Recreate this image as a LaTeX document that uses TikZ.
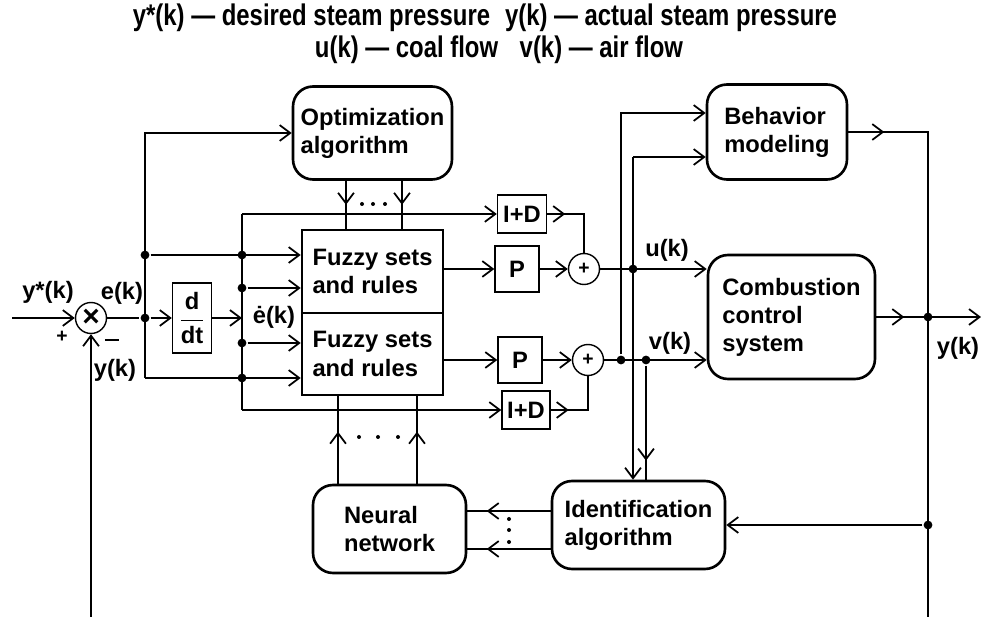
\documentclass[tikz,border=0pt]{standalone}
\usepackage{fontspec}
\setmainfont{Liberation Sans}
\newfontfamily\titlefont[FakeStretch=0.8]{Liberation Sans}
\usepackage{amsmath}
\usetikzlibrary{arrows.meta,decorations.markings}

\begin{document}
\begin{tikzpicture}[x=0.02cm, y=-0.02cm, line width=1.4pt,
	font=\bfseries\fontsize{13.5}{16}\selectfont,
	>={Straight Barb[length=6pt,width=9pt,line width=1pt]},
	block/.style={draw, rounded corners=0.4cm, line width=1.5pt, align=left, inner sep=2pt},
	fuzzybox/.style={draw, line width=1.5pt, align=left, minimum width=2.82cm},
	thinbox/.style={draw, line width=0.8pt, inner sep=0pt},
	sumnode/.style={draw, circle, line width=0.8pt, minimum size=0.62cm, inner sep=0pt},
	junc/.style={circle, fill, inner sep=0pt, minimum size=5pt},
	tipat/.style={postaction={decorate}, decoration={markings, mark=at position #1 with {\arrow{>}}}}]
	\useasboundingbox (0,0) rectangle (981,617);
	% legend
	\node (title1) at (485,18) {\titlefont\fontsize{17}{20}\selectfont y*(k) — desired steam pressure\enspace y(k) — actual steam pressure};
	\node (title2) at (499,50) {\titlefont\fontsize{17}{20}\selectfont u(k) — coal flow\enspace\ v(k) — air flow};
	% blocks
	\node[block, minimum width=3.18cm, minimum height=1.86cm] (opt) at (372.5,133) {Optimization\\algorithm};
	\node[block, minimum width=2.8cm, minimum height=1.9cm] (beh) at (777,132) {Behavior\\modeling};
	\node[fuzzybox, minimum height=1.66cm] (fz1) at (372.5,271.5) {Fuzzy sets\\and rules};
	\node[fuzzybox, minimum height=1.64cm] (fz2) at (372.5,354) {Fuzzy sets\\and rules};
	\node[block, minimum width=3.34cm, minimum height=2.48cm] (comb) at (791.5,317) {Combustion\\control\\system};
	\node[block, minimum width=3.06cm, minimum height=1.76cm] (nn) at (389.5,529) {Neural\\network};
	\node[block, minimum width=3.46cm, minimum height=1.76cm] (ident) at (638.5,525) {Identification\\algorithm};
	\node[thinbox, minimum width=0.78cm, minimum height=1.4cm] (dd) at (192,318) {$\dfrac{\text{d}}{\text{dt}}$};
	\node[thinbox, minimum width=0.98cm, minimum height=0.76cm] (id1) at (522,214) {I+D};
	\node[thinbox, minimum width=0.88cm, minimum height=0.92cm] (p1) at (517,269) {P};
	\node[thinbox, minimum width=0.88cm, minimum height=0.92cm] (p2) at (520,360) {P};
	\node[thinbox, minimum width=0.96cm, minimum height=0.76cm] (id2) at (526,410) {I+D};
	\node[sumnode] (s0) at (91,318) {\fontsize{17}{17}\selectfont ×};
	\node[sumnode] (s1) at (584,269) {\fontsize{11}{11}\selectfont +};
	\node[sumnode] (s2) at (588,360) {\fontsize{11}{11}\selectfont +};
	% points
	\coordinate (in) at (12,318);
	\coordinate (fb) at (91,617);
	\coordinate (etop) at (145,133);
	\coordinate (ebot) at (145,378);
	\coordinate (dtop) at (242,214);
	\coordinate (dbot) at (242,410);
	\coordinate (b1) at (621,113);
	\coordinate (b2) at (633,157);
	\coordinate (ycor) at (928,132);
	\coordinate (ybot) at (928,617);
	\coordinate (out) at (981,317);
	\node[junc] (j1) at (145,318) {};
	\node[junc] (j2) at (145,255) {};
	\node[junc] (k1) at (242,255) {};
	\node[junc] (k2) at (242,288) {};
	\node[junc] (k3) at (242,343) {};
	\node[junc] (k4) at (242,378) {};
	\node[junc] (ju) at (633,269) {};
	\node[junc] (jv1) at (621,360) {};
	\node[junc] (jv2) at (646,360) {};
	\node[junc] (jy1) at (928,317) {};
	\node[junc] (jy2) at (928,525) {};
	% error and its derivative
	\draw[->] (in) -- (s0);
	\draw[->] (fb) -- (s0);
	\draw (s0) -- (j1);
	\draw[->] (j1) -- (dd);
	\draw[->] (ebot) -- (etop) -- (opt.west);
	\draw[->] (ebot) -- (ebot -| fz2.west);
	\draw[->] (j2) -- (j2 -| fz1.west);
	\draw[->] (dd) -- (242,318);
	\draw (dtop) -- (dbot);
	\draw[->] (dtop) -- (id1);
	\draw[->] (dbot) -- (id2);
	\draw[->] (k2) -- (k2 -| fz1.west);
	\draw[->] (k3) -- (k3 -| fz2.west);
	% tuning of the fuzzy rules
	\draw[tipat=0.48cm] ([xshift=-0.53cm]opt.south) -- ([xshift=-0.53cm]fz1.north);
	\draw[tipat=0.48cm] ([xshift=0.59cm]opt.south) -- ([xshift=0.59cm]fz1.north);
	\draw[tipat=1.04cm] ([xshift=-1.03cm]nn.north) -- ([xshift=-1.03cm]nn.north |- fz2.south);
	\draw[tipat=1.04cm] ([xshift=0.55cm]nn.north) -- ([xshift=0.55cm]nn.north |- fz2.south);
	\draw[tipat=1.28cm] ([yshift=0.28cm]ident.west) -- ([yshift=0.28cm]ident.west -| nn.east);
	\draw[tipat=1.28cm] ([yshift=-0.48cm]ident.west) -- ([yshift=-0.48cm]ident.west -| nn.east);
	% PID parts
	\draw[->] (p1 -| fz1.east) -- (p1);
	\draw[->] (p1) -- (s1);
	\draw[->] (p2 -| fz2.east) -- (p2);
	\draw[->] (p2) -- (s2);
	\draw[tipat=0.36cm] (id1.east) -- (id1.east -| s1) -- (s1);
	\draw[tipat=0.36cm] (id2.east) -- (id2.east -| s2) -- (s2);
	% plant side
	\draw[->] (s1) -- (s1 -| comb.west);
	\draw[->] (s2) -- (s2 -| comb.west);
	\draw[->] (jv1) -- (b1) -- (b1 -| beh.west);
	\draw[->] (b2) -- (b2 -| beh.west);
	\draw[->] (b2) -- (b2 |- ident.north);
	\draw[tipat=1.9cm] (jv2) -- (jv2 |- ident.north);
	\draw[tipat=0.72cm] (beh.east) -- (ycor) -- (ybot);
	\draw[tipat=0.56cm, ->] (comb.east) -- (out);
	\draw[->] (jy2) -- (ident.east);
	% ellipses
	\foreach \x in {362,373,385} \fill (\x,204) circle (2);
	\foreach \x in {359,378,398} \fill (\x,437) circle (2);
	\foreach \y in {519,530,542} \fill (509,\y) circle (2);
	% labels
	\node (lys) at (48,292) {y*(k)};
	\node (lplus) at (62,337) {\fontsize{11}{11}\selectfont +};
	\node (lek) at (122,293) {e(k)};
	\node (lminus) at (112,342) {\rule[2pt]{8pt}{1.2pt}};
	\node (lyk) at (115,370) {y(k)};
	\node (ledot) at (274,317) {ė(k)};
	\node (luk) at (667,250) {u(k)};
	\node (lvk) at (670,343) {v(k)};
	\node (lout) at (958,348) {y(k)};
\end{tikzpicture}
\end{document}
